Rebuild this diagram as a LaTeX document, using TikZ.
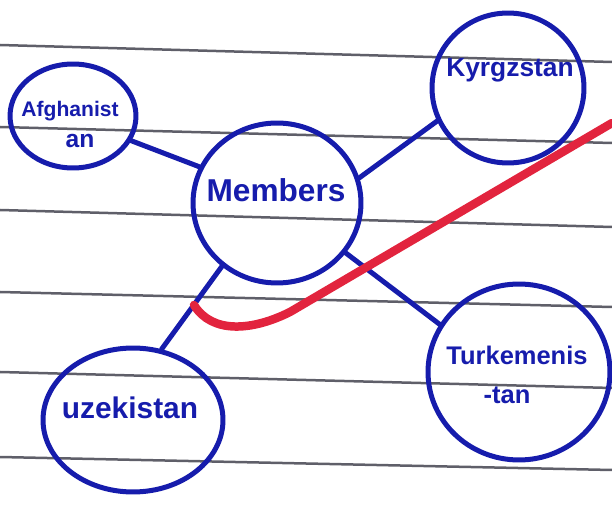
\documentclass[tikz,border=0pt]{standalone}
\usepackage{fontspec}
\setmainfont{Liberation Sans}
\usetikzlibrary{shapes.geometric}
\definecolor{ink}{RGB}{22,28,172}
\definecolor{redink}{RGB}{226,36,62}
\definecolor{rule}{RGB}{95,95,105}
\tikzset{
  bubble/.style={draw=ink, line width=0.1cm, ellipse, inner sep=0pt},
  link/.style={draw=ink, line width=0.1cm, line cap=round},
  hand/.style={text=ink, font=\bfseries, inner sep=0pt, align=center},
  ruled/.style={draw=rule, line width=0.05cm},
}
\begin{document}
\begin{tikzpicture}[x=0.02cm, y=-0.02cm]
\useasboundingbox (0,0) rectangle (612,523);
% ruled paper lines
\foreach \a/\b in {45/62,127/143,210/227,292/307,372/388,457/470}
  \draw[ruled] (0,\a) -- (612,\b);
% bubbles
\node[bubble, minimum width=2.52cm, minimum height=2.08cm] (af) at (73,116) {};
\node[bubble, minimum width=3.04cm, minimum height=3.0cm] (ky) at (508,88) {};
\node[bubble, minimum width=3.36cm, minimum height=3.2cm] (me) at (277,203) {};
\node[bubble, minimum width=3.64cm, minimum height=3.52cm] (tu) at (519,372) {};
\node[bubble, minimum width=3.6cm, minimum height=2.88cm] (uz) at (133,420) {};
% texts
\node[hand, font=\bfseries\fontsize{12}{12}\selectfont] (taf1) at (70,111) {Afghanist};
\node[hand, font=\bfseries\fontsize{14}{14}\selectfont] (taf2) at (80,141) {an};
\node[hand, font=\bfseries\fontsize{15}{15}\selectfont] (tky) at (510,70) {Kyrgzstan};
\node[hand, font=\bfseries\fontsize{18}{18}\selectfont] (tme) at (276,190) {Members};
\node[hand, font=\bfseries\fontsize{14.5}{14.5}\selectfont] (ttu1) at (517,355) {Turkemenis};
\node[hand, font=\bfseries\fontsize{14.5}{14.5}\selectfont] (ttu2) at (507,395) {-tan};
\node[hand, font=\bfseries\fontsize{17}{17}\selectfont] (tuz) at (130,408) {uzekistan};
% connectors
\draw[link] (af.337) -- (me.155);
\draw[link] (me.17) -- (ky.205);
\draw[link] (me.324) -- (tu.149);
\draw[link] (me.229) -- (uz.68);
% red stroke
\coordinate (r1) at (194,305);
\coordinate (r2) at (612,123);
\draw[draw=redink, line width=0.17cm, line cap=round, line join=round]
  (r1) .. controls (212,334) and (252,331) .. (290,312) -- (r2);
\end{tikzpicture}
\end{document}
